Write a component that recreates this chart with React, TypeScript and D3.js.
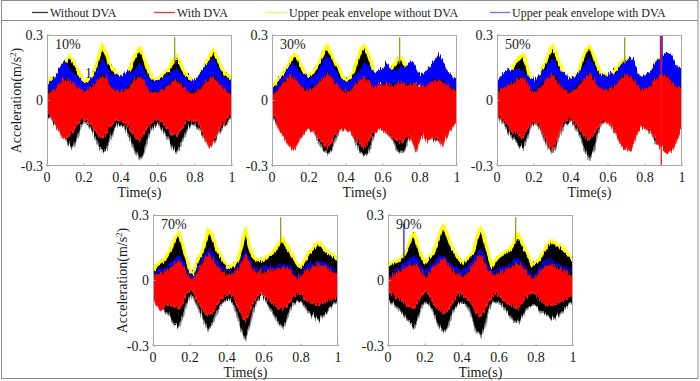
import React from 'react';
import * as d3 from 'd3';

// ---------- data ----------
const TIMES = d3.range(0, 51).map((i) => i / 50); // sampling grid, 0..1 s step 0.02

const panelLabels = ['10%', '30%', '50%', '70%', '90%'];
const xTicks = [0, 0.2, 0.4, 0.6, 0.8, 1];
const xTickLabels = ['0', '0.2', '0.4', '0.6', '0.8', '1'];
const yTicks = [-0.3, 0, 0.3];
const yTickLabels = ['-0.3', '0', '0.3'];
const legendLabels = ['Without DVA', 'With DVA', 'Upper peak envelope without DVA', 'Upper peak envelope with DVA'];

// 10%
const yellow10 = [0.08,0.11,0.10,0.13,0.16,0.18,0.21,0.19,0.16,0.12,0.09,0.10,0.11,0.15,0.21,0.26,0.22,0.17,0.15,0.12,0.10,0.12,0.13,0.18,0.22,0.25,0.21,0.16,0.12,0.10,0.11,0.12,0.14,0.15,0.19,0.21,0.18,0.14,0.12,0.10,0.09,0.12,0.14,0.18,0.21,0.24,0.20,0.16,0.13,0.12,0.10];
const blue10 = [0.07,0.09,0.11,0.14,0.17,0.19,0.15,0.14,0.12,0.10,0.09,0.09,0.10,0.13,0.16,0.19,0.17,0.13,0.12,0.13,0.12,0.13,0.14,0.12,0.15,0.17,0.15,0.12,0.10,0.09,0.10,0.11,0.13,0.12,0.14,0.15,0.13,0.12,0.10,0.09,0.10,0.12,0.14,0.17,0.19,0.20,0.16,0.13,0.11,0.10,0.08];
const redHi10 = [0.04,0.05,0.06,0.08,0.10,0.11,0.10,0.09,0.07,0.06,0.05,0.06,0.07,0.09,0.11,0.13,0.11,0.08,0.06,0.05,0.05,0.06,0.07,0.09,0.11,0.12,0.10,0.07,0.05,0.05,0.05,0.06,0.07,0.08,0.10,0.10,0.09,0.07,0.05,0.05,0.05,0.06,0.08,0.10,0.11,0.12,0.10,0.08,0.06,0.05,0.04];
const redLo10 = [-0.04,-0.06,-0.09,-0.12,-0.15,-0.17,-0.15,-0.13,-0.10,-0.08,-0.07,-0.08,-0.10,-0.13,-0.15,-0.16,-0.14,-0.11,-0.09,-0.08,-0.08,-0.09,-0.11,-0.14,-0.16,-0.17,-0.15,-0.11,-0.09,-0.08,-0.08,-0.09,-0.11,-0.13,-0.15,-0.15,-0.13,-0.10,-0.08,-0.08,-0.08,-0.10,-0.13,-0.17,-0.20,-0.18,-0.14,-0.11,-0.09,-0.07,-0.06];
const blackLo10 = [-0.06,-0.07,-0.09,-0.11,-0.14,-0.16,-0.19,-0.20,-0.16,-0.11,-0.08,-0.09,-0.12,-0.15,-0.19,-0.22,-0.21,-0.16,-0.12,-0.10,-0.10,-0.11,-0.14,-0.18,-0.22,-0.25,-0.23,-0.17,-0.12,-0.10,-0.10,-0.12,-0.14,-0.17,-0.20,-0.22,-0.19,-0.15,-0.11,-0.10,-0.10,-0.12,-0.14,-0.17,-0.19,-0.18,-0.15,-0.12,-0.10,-0.08,-0.07];

// 30%
const yellow30 = [0.07,0.09,0.11,0.13,0.16,0.19,0.22,0.20,0.16,0.13,0.12,0.13,0.16,0.19,0.23,0.26,0.22,0.18,0.16,0.12,0.10,0.11,0.14,0.19,0.24,0.26,0.22,0.17,0.10,0.07,0.10,0.13,0.15,0.17,0.20,0.20,0.17,0.14,0.11,0.07,0.06,0.10,0.13,0.16,0.18,0.19,0.17,0.14,0.12,0.11,0.10];
const blue30 = [0.05,0.07,0.09,0.12,0.15,0.17,0.17,0.15,0.13,0.12,0.11,0.11,0.13,0.16,0.19,0.21,0.18,0.15,0.12,0.10,0.09,0.10,0.12,0.12,0.15,0.18,0.17,0.14,0.14,0.15,0.15,0.18,0.15,0.14,0.15,0.16,0.15,0.18,0.19,0.15,0.12,0.13,0.15,0.17,0.19,0.22,0.19,0.15,0.13,0.11,0.10];
const redHi30 = [0.04,0.05,0.07,0.09,0.11,0.12,0.11,0.09,0.07,0.06,0.06,0.07,0.08,0.10,0.12,0.13,0.12,0.09,0.07,0.06,0.05,0.06,0.07,0.09,0.11,0.12,0.10,0.08,0.07,0.08,0.08,0.09,0.08,0.08,0.09,0.09,0.08,0.08,0.09,0.08,0.07,0.07,0.08,0.09,0.10,0.11,0.10,0.08,0.07,0.06,0.06];
const redLo30 = [-0.05,-0.08,-0.12,-0.15,-0.18,-0.20,-0.21,-0.18,-0.15,-0.13,-0.12,-0.13,-0.15,-0.17,-0.19,-0.20,-0.18,-0.15,-0.13,-0.12,-0.12,-0.13,-0.15,-0.17,-0.19,-0.20,-0.18,-0.15,-0.13,-0.12,-0.13,-0.14,-0.15,-0.17,-0.17,-0.18,-0.16,-0.15,-0.18,-0.22,-0.16,-0.15,-0.18,-0.16,-0.17,-0.16,-0.20,-0.16,-0.13,-0.10,-0.08];
const blackLo30 = [-0.06,-0.08,-0.10,-0.12,-0.14,-0.16,-0.18,-0.17,-0.15,-0.12,-0.11,-0.12,-0.15,-0.18,-0.21,-0.23,-0.21,-0.17,-0.13,-0.11,-0.11,-0.12,-0.15,-0.19,-0.22,-0.24,-0.22,-0.17,-0.13,-0.11,-0.11,-0.13,-0.15,-0.18,-0.21,-0.23,-0.20,-0.16,-0.14,-0.13,-0.12,-0.13,-0.15,-0.16,-0.17,-0.17,-0.15,-0.12,-0.09,-0.07,-0.05];

// 50%
const yellow50 = [0.06,0.09,0.11,0.13,0.15,0.18,0.20,0.22,0.17,0.11,0.08,0.10,0.14,0.18,0.22,0.26,0.22,0.17,0.13,0.11,0.10,0.11,0.14,0.19,0.24,0.26,0.22,0.17,0.13,0.13,0.12,0.13,0.15,0.17,0.19,0.20,0.18,0.14,0.12,0.11,0.10,0.12,0.15,0.18,0.20,0.19,0.18,0.17,0.16,0.14,0.12];
const blue50 = [0.08,0.12,0.14,0.15,0.14,0.15,0.15,0.14,0.12,0.11,0.10,0.11,0.13,0.15,0.18,0.20,0.17,0.14,0.13,0.11,0.10,0.11,0.13,0.15,0.18,0.20,0.17,0.14,0.12,0.12,0.12,0.13,0.13,0.15,0.18,0.19,0.20,0.19,0.13,0.12,0.12,0.13,0.15,0.18,0.20,0.22,0.23,0.22,0.18,0.16,0.15];
const redHi50 = [0.05,0.06,0.07,0.08,0.09,0.10,0.11,0.12,0.09,0.06,0.05,0.06,0.08,0.10,0.12,0.13,0.11,0.08,0.06,0.05,0.05,0.06,0.08,0.10,0.12,0.13,0.11,0.08,0.06,0.06,0.06,0.07,0.08,0.10,0.12,0.13,0.12,0.10,0.08,0.06,0.06,0.07,0.09,0.11,0.12,0.13,0.12,0.10,0.08,0.07,0.06];
const redLo50 = [-0.05,-0.07,-0.09,-0.11,-0.13,-0.14,-0.15,-0.16,-0.13,-0.10,-0.08,-0.10,-0.13,-0.16,-0.19,-0.21,-0.18,-0.13,-0.09,-0.08,-0.08,-0.09,-0.11,-0.14,-0.16,-0.17,-0.15,-0.12,-0.09,-0.08,-0.09,-0.11,-0.14,-0.17,-0.20,-0.21,-0.22,-0.18,-0.13,-0.11,-0.12,-0.12,-0.14,-0.17,-0.20,-0.21,-0.23,-0.22,-0.19,-0.15,-0.12];
const blackLo50 = [-0.06,-0.08,-0.10,-0.13,-0.15,-0.17,-0.19,-0.20,-0.16,-0.11,-0.09,-0.10,-0.13,-0.17,-0.20,-0.22,-0.19,-0.14,-0.10,-0.09,-0.08,-0.10,-0.13,-0.17,-0.22,-0.25,-0.22,-0.15,-0.10,-0.08,-0.08,-0.10,-0.13,-0.16,-0.18,-0.19,-0.17,-0.13,-0.11,-0.10,-0.10,-0.12,-0.15,-0.18,-0.19,-0.18,-0.16,-0.14,-0.12,-0.11,-0.10];

// 70%
const yellow70 = [0.05,0.08,0.09,0.10,0.13,0.16,0.20,0.22,0.17,0.11,0.05,0.04,0.10,0.13,0.18,0.24,0.21,0.16,0.13,0.10,0.07,0.07,0.08,0.10,0.17,0.24,0.17,0.12,0.10,0.10,0.10,0.12,0.13,0.15,0.18,0.20,0.17,0.14,0.11,0.08,0.07,0.10,0.13,0.15,0.17,0.18,0.16,0.14,0.13,0.12,0.10];
const blue70 = [0.04,0.05,0.06,0.06,0.07,0.09,0.11,0.12,0.10,0.06,0.03,0.03,0.07,0.10,0.13,0.15,0.13,0.10,0.08,0.06,0.05,0.05,0.05,0.07,0.11,0.14,0.11,0.07,0.06,0.06,0.07,0.07,0.07,0.07,0.08,0.08,0.08,0.07,0.05,0.03,0.04,0.06,0.08,0.08,0.09,0.10,0.09,0.08,0.07,0.06,0.04];
const redHi70 = [0.03,0.04,0.04,0.05,0.06,0.07,0.09,0.10,0.08,0.05,0.02,0.02,0.05,0.08,0.11,0.13,0.11,0.08,0.06,0.05,0.04,0.04,0.04,0.06,0.10,0.13,0.10,0.06,0.05,0.05,0.05,0.06,0.06,0.06,0.07,0.07,0.07,0.06,0.04,0.02,0.03,0.05,0.06,0.07,0.08,0.08,0.08,0.07,0.06,0.05,0.03];
const redLo70 = [-0.07,-0.10,-0.12,-0.11,-0.10,-0.10,-0.11,-0.12,-0.09,-0.05,-0.03,-0.04,-0.08,-0.11,-0.14,-0.15,-0.14,-0.11,-0.08,-0.06,-0.05,-0.05,-0.07,-0.11,-0.15,-0.17,-0.14,-0.09,-0.06,-0.05,-0.05,-0.07,-0.09,-0.10,-0.12,-0.12,-0.11,-0.08,-0.06,-0.05,-0.05,-0.07,-0.08,-0.09,-0.10,-0.10,-0.09,-0.08,-0.07,-0.07,-0.05];
const blackLo70 = [-0.06,-0.08,-0.10,-0.12,-0.14,-0.16,-0.19,-0.20,-0.15,-0.09,-0.05,-0.06,-0.10,-0.14,-0.18,-0.21,-0.19,-0.14,-0.10,-0.08,-0.07,-0.07,-0.10,-0.16,-0.22,-0.25,-0.20,-0.12,-0.08,-0.06,-0.06,-0.09,-0.12,-0.15,-0.18,-0.20,-0.17,-0.12,-0.09,-0.08,-0.08,-0.10,-0.13,-0.15,-0.16,-0.17,-0.15,-0.13,-0.11,-0.09,-0.07];

// 90%
const yellow90 = [0.08,0.09,0.09,0.10,0.12,0.15,0.19,0.22,0.17,0.12,0.09,0.11,0.13,0.17,0.22,0.26,0.22,0.17,0.14,0.11,0.09,0.10,0.12,0.14,0.20,0.25,0.20,0.14,0.07,0.10,0.12,0.13,0.14,0.15,0.18,0.22,0.19,0.15,0.12,0.08,0.09,0.11,0.14,0.17,0.19,0.18,0.17,0.16,0.14,0.12,0.10];
const blue90 = [0.03,0.04,0.05,0.06,0.08,0.09,0.11,0.12,0.10,0.07,0.05,0.06,0.08,0.10,0.12,0.12,0.10,0.08,0.07,0.06,0.05,0.06,0.08,0.10,0.13,0.15,0.12,0.07,0.05,0.05,0.06,0.07,0.07,0.08,0.10,0.11,0.09,0.07,0.05,0.03,0.04,0.07,0.09,0.10,0.10,0.09,0.08,0.07,0.06,0.05,0.05];
const redHi90 = [0.02,0.03,0.04,0.05,0.06,0.07,0.08,0.09,0.08,0.05,0.03,0.04,0.06,0.08,0.10,0.11,0.09,0.07,0.05,0.04,0.03,0.04,0.06,0.08,0.11,0.13,0.10,0.06,0.04,0.04,0.05,0.05,0.06,0.07,0.08,0.09,0.08,0.06,0.04,0.02,0.03,0.05,0.07,0.08,0.08,0.08,0.07,0.06,0.05,0.04,0.04];
const redLo90 = [-0.04,-0.05,-0.06,-0.07,-0.08,-0.10,-0.11,-0.12,-0.09,-0.06,-0.03,-0.05,-0.08,-0.11,-0.13,-0.14,-0.13,-0.10,-0.07,-0.05,-0.05,-0.06,-0.08,-0.11,-0.14,-0.15,-0.13,-0.09,-0.06,-0.05,-0.05,-0.07,-0.09,-0.10,-0.11,-0.12,-0.10,-0.07,-0.05,-0.04,-0.05,-0.07,-0.09,-0.10,-0.10,-0.10,-0.09,-0.08,-0.07,-0.06,-0.05];
const blackLo90 = [-0.08,-0.09,-0.10,-0.12,-0.14,-0.16,-0.18,-0.20,-0.16,-0.11,-0.08,-0.09,-0.12,-0.16,-0.20,-0.22,-0.20,-0.15,-0.11,-0.09,-0.08,-0.09,-0.12,-0.17,-0.22,-0.24,-0.20,-0.13,-0.09,-0.08,-0.08,-0.10,-0.13,-0.15,-0.17,-0.18,-0.16,-0.13,-0.11,-0.10,-0.10,-0.12,-0.14,-0.15,-0.16,-0.16,-0.15,-0.13,-0.11,-0.09,-0.08];

// isolated spikes: panel index, series, time, from value, to value
const spikePanel = [0, 1, 2, 2, 2, 2, 3, 4, 4];
const spikeSeries = ['without', 'without', 'without', 'with', 'with', 'withRaw', 'without', 'without', 'with'];
const spikeTime = [0.69, 0.69, 0.69, 0.884, 0.893, 0.888, 0.69, 0.69, 0.086];
const spikeFrom = [0.17, 0.17, 0.17, 0.15, 0.15, -0.32, 0.17, 0.17, 0.1];
const spikeTo = [0.29, 0.29, 0.29, 0.32, 0.32, 0.32, 0.29, 0.29, 0.26];

const panels = [
  { yellow: yellow10, blue: blue10, redHi: redHi10, redLo: redLo10, blackLo: blackLo10 },
  { yellow: yellow30, blue: blue30, redHi: redHi30, redLo: redLo30, blackLo: blackLo30 },
  { yellow: yellow50, blue: blue50, redHi: redHi50, redLo: redLo50, blackLo: blackLo50 },
  { yellow: yellow70, blue: blue70, redHi: redHi70, redLo: redLo70, blackLo: blackLo70 },
  { yellow: yellow90, blue: blue90, redHi: redHi90, redLo: redLo90, blackLo: blackLo90 },
];

// ---------- layout / style ----------
const PW = 185;
const PH = 131;
const origins = [
  { x: 47, y: 35, ylab: true },
  { x: 272, y: 35, ylab: false },
  { x: 497, y: 35, ylab: false },
  { x: 153, y: 215, ylab: true },
  { x: 388, y: 215, ylab: false },
];
const spikeColor: Record<string, string> = { without: '#9a9a20', with: '#2020ff', withRaw: '#ff1010' };
const legendColors = ['#333333', '#ff3030', '#f0f060', '#7070ff'];
const legendX = [32, 154, 265, 490];
const legendW = [16, 21, 22, 20];
const FONT = "'Liberation Serif', 'Times New Roman', serif";
const AXIS = '#a8a8a8';
const TXT = '#1a1a1a';
const SEEDS = [3, 7, 11, 17];

// texture filter: ragged vertical edges, like a dense vibration trace
function JagFilter({ id, seed, scale }: { id: string; seed: number; scale: number }) {
  return (
    <filter id={id} x="-2%" y="-20%" width="104%" height="140%" filterUnits="objectBoundingBox">
      <feTurbulence type="turbulence" baseFrequency="0.75 0.02" numOctaves={2} seed={seed} result="n" />
      <feColorMatrix in="n" type="matrix" values="0 0 0 0 0.5  0 1 0 0 0  0 0 1 0 0  0 0 0 0 1" result="m" />
      <feDisplacementMap in="SourceGraphic" in2="m" scale={scale} xChannelSelector="R" yChannelSelector="G" />
    </filter>
  );
}

function Panel({ i }: { i: number }) {
  const o = origins[i];
  const d = panels[i];
  const x = d3.scaleLinear().domain([0, 1]).range([o.x, o.x + PW]);
  const y = d3.scaleLinear().domain([-0.3, 0.3]).range([o.y + PH, o.y]);
  const area = (lo: number[], hi: number[]) =>
    d3
      .area<number>()
      .x((_, k) => x(TIMES[k]))
      .y0((_, k) => y(lo[k]))
      .y1((_, k) => y(hi[k]))(TIMES) as string;
  const line = (v: number[]) =>
    d3
      .line<number>()
      .x((_, k) => x(TIMES[k]))
      .y((_, k) => y(v[k]))(TIMES) as string;
  const clipId = `clip${i}`;
  const spikes = spikePanel.map((p, k) => k).filter((k) => spikePanel[k] === i);
  return (
    <g>
      <defs>
        <clipPath id={clipId}>
          <rect x={o.x} y={o.y} width={PW} height={PH} />
        </clipPath>
      </defs>
      <rect x={o.x} y={o.y} width={PW} height={PH} fill="#fff" />
      {i === 0 && (
        <text x={85} y={78} fontSize={14} fill={TXT}>
          10%
        </text>
      )}
      <g clipPath={`url(#${clipId})`}>
        {/* without DVA */}
        <g filter="url(#jagA)">
          <path d={line(d.blackLo)} fill="none" stroke="#8a8a8a" strokeWidth={3} />
          <path d={area(d.blackLo, d.yellow)} fill="#000" />
        </g>
        {/* upper envelope without DVA */}
        <path d={line(d.yellow)} fill="none" stroke="#ffff00" strokeWidth={3.2} strokeLinejoin="round" filter="url(#jagB)" />
        {/* upper envelope with DVA */}
        <g filter="url(#jagC)">
          <path d={area(d.redHi, d.blue)} fill="#0000ff" />
          <path d={line(d.blue)} fill="none" stroke="#0000ff" strokeWidth={1.4} />
        </g>
        {/* with DVA */}
        <g filter="url(#jagD)">
          <path d={area(d.redLo, d.redHi)} fill="#ff0000" />
          <path d={line(d.redLo)} fill="none" stroke="#ff2020" strokeWidth={1.2} />
        </g>
        {spikes.map((k) => (
          <line
            key={k}
            x1={x(spikeTime[k])}
            x2={x(spikeTime[k])}
            y1={y(spikeFrom[k])}
            y2={y(spikeTo[k])}
            stroke={spikeColor[spikeSeries[k]]}
            strokeWidth={1.3}
          />
        ))}
      </g>
      <rect x={o.x + 0.5} y={o.y + 0.5} width={PW - 1} height={PH - 1} fill="none" stroke={AXIS} strokeWidth={1} />
      {xTicks.map((t, k) => (
        <g key={k}>
          <line x1={x(t)} x2={x(t)} y1={o.y + PH} y2={o.y + PH - 2.5} stroke={AXIS} />
          <text x={x(t)} y={o.y + PH + 15.5} fontSize={14} textAnchor="middle" fill={TXT}>
            {xTickLabels[k]}
          </text>
        </g>
      ))}
      {yTicks.map((v, k) => (
        <g key={k}>
          <line x1={o.x} x2={o.x + 2.5} y1={y(v)} y2={y(v)} stroke={AXIS} />
          <text x={o.x - 4} y={y(v) + 4.8} fontSize={14} textAnchor="end" fill={TXT}>
            {yTickLabels[k]}
          </text>
        </g>
      ))}
      <text x={o.x + PW / 2} y={o.y + PH + 31} fontSize={14} textAnchor="middle" fill={TXT}>
        Time(s)
      </text>
      <text x={o.x + 8} y={o.y + 14} fontSize={14} fill={TXT}>
        {panelLabels[i]}
      </text>
      {o.ylab && (
        <text
          transform={`translate(${o.x - 26.5},${o.y + PH / 2}) rotate(-90)`}
          fontSize={14}
          textAnchor="middle"
          fill={TXT}
        >
          Acceleration(m/s
          <tspan dy={-5} fontSize={9}>
            2
          </tspan>
          <tspan dy={5}>)</tspan>
        </text>
      )}
    </g>
  );
}

export default function App() {
  return (
    <svg
      width={700}
      height={381}
      style={{ position: 'absolute', left: 0, top: 0, display: 'block', background: '#fff' }}
      fontFamily={FONT}
    >
      <defs>
        <JagFilter id="jagA" seed={SEEDS[0]} scale={9} />
        <JagFilter id="jagB" seed={SEEDS[1]} scale={6} />
        <JagFilter id="jagC" seed={SEEDS[2]} scale={8} />
        <JagFilter id="jagD" seed={SEEDS[3]} scale={9} />
      </defs>
      <rect x={0} y={0} width={700} height={381} fill="#fff" />
      <rect x={1.5} y={0.5} width={696.5} height={378} fill="none" stroke="#8a8a8a" strokeWidth={1} />
      <line x1={1.5} x2={698} y1={20.5} y2={20.5} stroke="#8a8a8a" strokeWidth={1} />
      {legendLabels.map((lab, k) => (
        <g key={k}>
          <line x1={legendX[k]} x2={legendX[k] + legendW[k]} y1={12.5} y2={12.5} stroke={legendColors[k]} strokeWidth={1.3} />
          <text x={legendX[k] + legendW[k] + 2} y={16.8} fontSize={12} fill={TXT}>
            {lab}
          </text>
        </g>
      ))}
      {origins.map((_, i) => (
        <Panel key={i} i={i} />
      ))}
    </svg>
  );
}
